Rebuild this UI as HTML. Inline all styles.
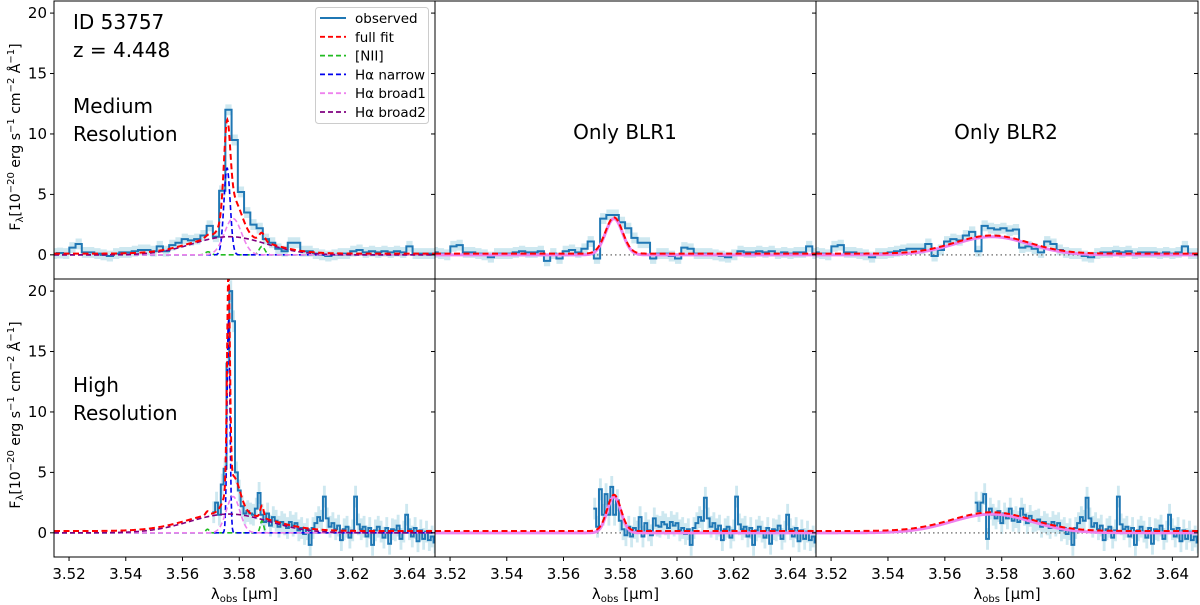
<!DOCTYPE html>
<html><head><meta charset="utf-8"><style>
html,body{margin:0;padding:0;background:#fff;}
svg{display:block;font-family:"DejaVu Sans","Liberation Sans",sans-serif;}
</style></head><body>
<svg id="fig" width="1200" height="605" viewBox="0 0 1200 605" xmlns="http://www.w3.org/2000/svg"></svg>
<script>
// ---- data ----
const xTicks=[3.52,3.54,3.56,3.58,3.60,3.62,3.64];
const xTickLabels=["3.52","3.54","3.56","3.58","3.60","3.62","3.64"];
const yTicks=[0,5,10,15,20];
const yTickLabels=["0","5","10","15","20"];
const medStart=3.5135, medStep=0.0022;
const hiStart=3.5705, hiStep=0.001;
const medObsFull=[0.1,0.15,0.1,0.6,0.9,0.2,0.2,0.1,0.0,-0.1,0.1,0.2,0.2,0.3,0.4,0.4,0.3,0.7,0.3,0.8,1.0,1.3,1.2,1.3,1.6,2.4,1.5,5.3,12.0,9.5,5.2,3.5,2.5,2.2,1.3,1.0,0.5,0.3,1.0,1.0,0.3,0.3,0.1,0.0,-0.1,0.0,0.1,0.1,0.3,0.4,0.2,0.3,0.2,0.3,0.2,0.3,0.2,0.7,0.1,0.1,0.1,0.1];
const medObsB1=[0.2,0.1,0.0,0.7,0.8,0.2,0.2,0.1,0.0,-0.2,0.1,0.1,0.1,0.2,0.3,0.2,0.2,0.3,-0.5,0.1,-0.3,0.3,0.4,0.2,0.5,1.1,-0.3,3.0,3.3,3.3,2.7,2.2,1.4,1.0,1.0,-0.3,0.1,0.1,-0.1,-0.3,0.6,0.5,0.1,0.1,0.1,0.0,-0.1,-0.2,0.0,0.3,0.2,0.2,0.3,0.2,0.3,0.1,0.2,0.1,0.2,0.2,0.7,0.1];
const medObsB2=[0.2,0.1,0.0,0.7,0.8,0.2,0.2,0.1,0.0,-0.2,0.1,0.1,0.2,0.3,0.4,0.5,0.5,0.5,0.9,-0.1,0.4,1.1,1.3,1.2,1.6,1.9,0.3,2.4,2.2,2.1,2.2,2.0,2.1,0.6,0.7,0.5,0.2,1.1,0.9,0.4,0.2,0.1,0.1,-0.1,-0.2,0.1,0.2,0.2,0.3,0.2,0.3,0.1,0.2,0.2,0.2,0.1,0.2,0.1,0.2,0.7,0.1,0.1];
const hiObsFull=[1.7,2.5,1.5,4.0,5.3,14.0,20.0,17.5,5.0,3.5,2.2,1.6,1.8,1.6,1.5,2.0,3.3,1.5,0.9,1.6,0.6,1.3,1.0,0.5,0.9,0.7,0.4,0.9,0.6,0.8,0.2,0.4,-0.1,0.3,-1.0,0.4,0.8,1.3,1.0,3.0,1.2,0.5,0.8,0.3,0.6,-0.6,0.3,0.5,-0.4,0.2,3.0,0.7,0.3,0.5,-0.3,0.4,-1.0,0.2,0.5,0.1,-0.4,0.4,-0.9,0.3,0.2,0.6,-0.5,0.1,1.5,0.3,-0.3,0.4,-0.7,0.2,-0.5,0.1,-0.6,-0.3,-0.8];
const hiObsB1=[2.0,0.5,3.6,1.5,3.2,1.5,3.8,1.5,2.7,1.0,0.3,-0.2,0.5,-0.3,0.4,0.1,1.3,-0.3,0.8,0.2,-0.2,1.2,0.6,0.5,0.9,0.7,0.4,0.9,0.6,0.8,0.2,0.4,-0.1,0.3,-1.0,0.4,0.8,1.3,1.0,2.9,1.2,0.5,0.8,0.3,0.6,-0.6,0.3,0.5,-0.4,0.2,3.0,0.7,0.3,0.5,-0.3,0.4,-1.0,0.2,0.5,0.1,-0.4,0.4,-0.9,0.3,0.2,0.6,-0.5,0.1,1.5,0.3,-0.3,0.4,-0.7,0.2,-0.5,0.1,-0.6,-0.3,-0.8];
const hiObsB2=[2.5,1.8,2.5,3.2,-0.5,2.0,1.5,1.2,1.8,0.8,1.6,1.2,2.0,1.0,1.3,0.9,2.0,1.5,0.8,1.4,0.9,1.0,1.1,0.5,0.9,0.7,0.4,0.9,0.6,0.8,0.2,0.4,-0.1,0.3,-1.0,0.4,0.8,1.3,1.0,2.9,1.2,0.5,0.8,0.3,0.6,-0.6,0.3,0.5,-0.4,0.2,3.0,0.7,0.3,0.5,-0.3,0.4,-1.0,0.2,0.5,0.1,-0.4,0.4,-0.9,0.3,0.2,0.6,-0.5,0.1,1.5,0.3,-0.3,0.4,-0.7,0.2,-0.5,0.1,-0.6,-0.3,-0.8];
const obsErr=[0.45,0.9];
// model component parameters [medium, high]
const continuum=[0.1,0.15];
const narrowAmp=[7.2,17.8], narrowCen=[3.5757,3.5762], narrowSig=[0.0011,0.0005];
const broad1Amp=[3.0,3.0], broad1Cen=[3.5778,3.5778], broad1Sig=[0.0030,0.0024];
const broad2Amp=[1.5,1.55], broad2Cen=[3.5765,3.5765], broad2Sig=[0.013,0.014];
const nii1Amp=[0.25,0.3], nii2Amp=[0.7,1.0], nii1Cen=[3.5690,3.5688], nii2Cen=[3.5880,3.5880], niiSig=[0.0010,0.0006];

// ---- layout ----
const NS='http://www.w3.org/2000/svg';
const svg=document.getElementById('fig');
const PX=[54,435,816], PW=[381,381,382], PY=[1,279], PH=278;
const XMIN=3.5147, XMAX=3.649, YMIN=-2, YMAX=21;
function xs(l,p){return PX[p]+(l-XMIN)/(XMAX-XMIN)*PW[p];}
function ys(v,r){return PY[r]+(YMAX-v)/(YMAX-YMIN)*PH;}
function mk(tag,attrs,parent){const e=document.createElementNS(NS,tag);for(const k in attrs)e.setAttribute(k,attrs[k]);(parent||svg).appendChild(e);return e;}
function gauss(l,a,c,s){return a*Math.exp(-0.5*((l-c)/s)**2);}
function compFn(name,r){
  if(name==='narrow')return l=>gauss(l,narrowAmp[r],narrowCen[r],narrowSig[r]);
  if(name==='broad1')return l=>gauss(l,broad1Amp[r],broad1Cen[r],broad1Sig[r]);
  if(name==='broad2')return l=>gauss(l,broad2Amp[r],broad2Cen[r],broad2Sig[r]);
  if(name==='nii')return l=>gauss(l,nii1Amp[r],nii1Cen[r],niiSig[r])+gauss(l,nii2Amp[r],nii2Cen[r],niiSig[r]);
}
function curvePath(f,p,r){let d='';const N=600;for(let i=0;i<=N;i++){const l=XMIN+(XMAX-XMIN)*i/N;d+=(i?'L':'M')+xs(l,p).toFixed(2)+','+ys(f(l),r).toFixed(2);}return d;}
function stepPath(vals,start,step,p,r,off){let d='';for(let i=0;i<vals.length;i++){const x0=xs(start+i*step,p),x1=xs(start+(i+1)*step,p),y=ys(vals[i]+off,r);d+=(i?'L':'M')+x0.toFixed(2)+','+y.toFixed(2)+'L'+x1.toFixed(2)+','+y.toFixed(2);}return d;}
function bandPath(vals,start,step,p,r,e){let up=stepPath(vals,start,step,p,r,e);let pts=[];for(let i=vals.length-1;i>=0;i--){const x0=xs(start+i*step,p),x1=xs(start+(i+1)*step,p),y=ys(vals[i]-e,r);pts.push('L'+x1.toFixed(2)+','+y.toFixed(2)+'L'+x0.toFixed(2)+','+y.toFixed(2));}return up+pts.join('')+'Z';}

const obsSets=[[medObsFull,medObsB1,medObsB2],[hiObsFull,hiObsB1,hiObsB2]];
const starts=[medStart,hiStart], steps=[medStep,hiStep];

const defs=mk('defs',{});
for(let r=0;r<2;r++)for(let p=0;p<3;p++){
  const cp=mk('clipPath',{id:'c'+r+p},defs);
  mk('rect',{x:PX[p],y:PY[r],width:PW[p],height:PH},cp);
  const g=mk('g',{'clip-path':'url(#c'+r+p+')'});
  
  
  const obs=obsSets[r][p];
  const band=mk('path',{d:bandPath(obs,starts[r],steps[r],p,r,obsErr[r]),fill:'#add8e6','fill-opacity':0.6},g);
  
  
  if(p>0){const z=mk('line',{x1:PX[p],x2:PX[p]+PW[p],y1:ys(0,r),y2:ys(0,r),stroke:'#808080','stroke-width':1.5,'stroke-dasharray':'1.5,3'},g);
    
    }
  const ol=mk('path',{d:stepPath(obs,starts[r],steps[r],p,r,0),fill:'none',stroke:'#1f77b4','stroke-width':2},g);
  
  
  if(p===0){
    const comps=[['nii','#22bb22'],['narrow','#0000ee'],['broad1','#ee82ee'],['broad2','#800080']];
    for(const [n,c] of comps){const e=mk('path',{d:curvePath(compFn(n,r),p,r),fill:'none',stroke:c,'stroke-width':1.6,'stroke-dasharray':'5,3'},g);
      
      }
    const fns=['nii','narrow','broad1','broad2'].map(n=>compFn(n,r));
    const full=l=>continuum[r]+fns.reduce((s,f)=>s+f(l),0);
    const ff=mk('path',{d:curvePath(full,p,r),fill:'none',stroke:'#ff0000','stroke-width':2,'stroke-dasharray':'6,3.5'},g);
    
    
  } else {
    const f=compFn(p===1?'broad1':'broad2',r);
    const b=mk('path',{d:curvePath(f,p,r),fill:'none',stroke:'#ee82ee','stroke-width':3},g);
    
    
    const ff=mk('path',{d:curvePath(l=>f(l)+continuum[r],p,r),fill:'none',stroke:'#ff0000','stroke-width':2,'stroke-dasharray':'6,3.5'},g);
    
    
  }
  const fr=mk('rect',{x:PX[p],y:PY[r],width:PW[p],height:PH,fill:'none',stroke:'#000','stroke-width':1});
  
  
  for(let i=0;i<yTicks.length;i++){const y=ys(yTicks[i],r);
    if(y<PY[r]||y>PY[r]+PH)continue;
    mk('line',{x1:PX[p]+PW[p]-4,x2:PX[p]+PW[p],y1:y,y2:y,stroke:'#000','stroke-width':1});
    if(p===0){mk('line',{x1:PX[p]-4,x2:PX[p],y1:y,y2:y,stroke:'#000','stroke-width':1});
      const t=mk('text',{x:PX[p]-7,y:y+5,'text-anchor':'end','font-size':15,fill:'#000'});t.textContent=yTickLabels[i];
      
      }
  }
  if(r===1){for(let i=0;i<xTicks.length;i++){const x=xs(xTicks[i],p);
    mk('line',{x1:x,x2:x,y1:PY[r]+PH,y2:PY[r]+PH+4,stroke:'#000','stroke-width':1});
    const t=mk('text',{x:x,y:579,'text-anchor':'middle','font-size':15,fill:'#000'});t.textContent=xTickLabels[i];
    
    }
    const xl=mk('text',{x:PX[p]+PW[p]/2,y:599,'text-anchor':'middle','font-size':15,fill:'#000'});
    xl.innerHTML='λ<tspan font-size="10" dy="3">obs</tspan><tspan dy="-3"> [μm]</tspan>';
    
    }
}
for(let r=0;r<2;r++){const cy=PY[r]+PH/2-3;
  const t=mk('text',{x:0,y:0,'text-anchor':'middle','font-size':14,fill:'#000',transform:'translate(20,'+cy+') rotate(-90)'});
  t.innerHTML='F<tspan font-size="10" dy="3">λ</tspan><tspan dy="-3">[10</tspan><tspan font-size="10" dy="-6">−20</tspan><tspan dy="6"> erg s</tspan><tspan font-size="10" dy="-6">−1</tspan><tspan dy="6"> cm</tspan><tspan font-size="10" dy="-6">−2</tspan><tspan dy="6"> Å</tspan><tspan font-size="10" dy="-6">−1</tspan><tspan dy="6">]</tspan>';
  
  }
const notes=[['ID 53757',73,29,20],['z = 4.448',73,57,20],['Medium',73,113,20],['Resolution',73,141,20],['High',73,392,20],['Resolution',73,420,20]];
for(const [s,x,y,fs] of notes){const t=mk('text',{x:x,y:y,'font-size':fs,fill:'#000'});t.textContent=s;
  
  }
const titles=[['Only BLR1',625],['Only BLR2',1006]];
for(const [s,x] of titles){const t=mk('text',{x:x,y:139,'text-anchor':'middle','font-size':20,fill:'#000'});t.textContent=s;
  
  }
const lg=mk('g',{});


mk('rect',{x:315.5,y:7.5,width:113,height:116,rx:3,fill:'#fff','fill-opacity':0.85,stroke:'#ccc'},lg);
const legLabels=['observed','full fit','[NII]','Hα narrow','Hα broad1','Hα broad2'];
const legColors=['#1f77b4','#ff0000','#22bb22','#0000ee','#ee82ee','#800080'];
for(let i=0;i<legLabels.length;i++){const y=18+i*18.8;
  const ln=mk('line',{x1:320,x2:346,y1:y,y2:y,stroke:legColors[i],'stroke-width':i===0?2:1.8,'stroke-dasharray':i===0?'none':'5,3'},lg);
  
  
  const t=mk('text',{x:355,y:y+5,'font-size':13.5,fill:'#000'},lg);t.textContent=legLabels[i];
  
  }
</script>
</body></html>
